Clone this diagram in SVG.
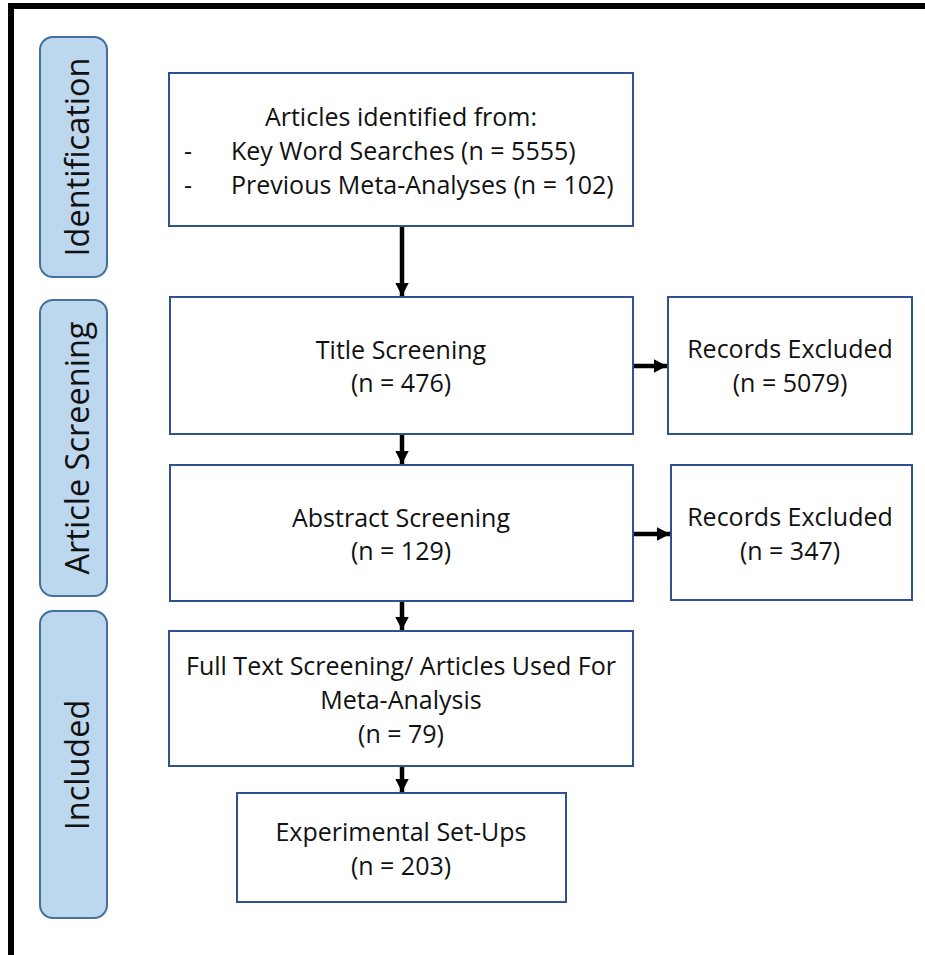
<svg xmlns="http://www.w3.org/2000/svg" width="925" height="955" viewBox="0 0 925 955">
<style>
.box{fill:#fff;stroke:#2F528F;stroke-width:2}
.pill{fill:#BDD7EE;stroke:#41719C;stroke-width:2}
.t{font-family:"Open Sans","Liberation Sans",sans-serif;font-size:25px;fill:#111;text-anchor:middle}
.tl{font-family:"Open Sans","Liberation Sans",sans-serif;font-size:25px;fill:#111}
.side{font-family:"Open Sans","Liberation Sans",sans-serif;font-size:32.5px;fill:#111;text-anchor:middle}
.c{stroke:#000;stroke-width:4.5;fill:none}
</style>
<defs>
<marker id="ah" markerWidth="4" markerHeight="4" refX="3" refY="2" orient="auto" markerUnits="strokeWidth" viewBox="0 0 4 4">
<path d="M0,0.45 L3,2 L0,3.55 z" fill="#000"/>
</marker>
</defs>
<rect width="925" height="955" fill="#fff"/>
<g id="frame">
<line x1="8" y1="6" x2="925" y2="6" stroke="#000" stroke-width="6"/>
<line x1="11" y1="3" x2="11" y2="955" stroke="#000" stroke-width="6"/>
</g>
<g id="stage-identification">
<rect class="pill" x="40" y="37" width="67" height="240" rx="13"/>
<text class="side" transform="translate(89,157) rotate(-90)">Identification</text>
</g>
<g id="stage-screening">
<rect class="pill" x="40" y="300" width="67" height="296" rx="13"/>
<text class="side" transform="translate(89,448) rotate(-90)">Article Screening</text>
</g>
<g id="stage-included">
<rect class="pill" x="40" y="611" width="67" height="307" rx="13"/>
<text class="side" transform="translate(89,765) rotate(-90)">Included</text>
</g>
<g id="identified">
<rect class="box" x="169" y="73" width="464" height="153"/>
<text class="t" x="401" y="126">Articles identified from:</text>
<text class="tl" x="184" y="160">-</text>
<text class="tl" x="231" y="160">Key Word Searches (n = 5555)</text>
<text class="tl" x="184" y="194">-</text>
<text class="tl" x="231" y="194">Previous Meta-Analyses (n = 102)</text>
</g>
<g id="title-screening">
<rect class="box" x="170" y="297" width="463" height="137"/>
<text class="t" x="401" y="359">Title Screening</text>
<text class="t" x="401" y="392">(n = 476)</text>
</g>
<g id="excluded-1">
<rect class="box" x="668" y="297" width="244" height="137"/>
<text class="t" x="790" y="358">Records Excluded</text>
<text class="t" x="790" y="392">(n = 5079)</text>
</g>
<g id="abstract-screening">
<rect class="box" x="170" y="465" width="463" height="136"/>
<text class="t" x="401" y="527">Abstract Screening</text>
<text class="t" x="401" y="560">(n = 129)</text>
</g>
<g id="excluded-2">
<rect class="box" x="671" y="465" width="241" height="135"/>
<text class="t" x="790" y="526">Records Excluded</text>
<text class="t" x="790" y="560">(n = 347)</text>
</g>
<g id="full-text">
<rect class="box" x="169" y="631" width="464" height="135"/>
<text class="t" x="401" y="675">Full Text Screening/ Articles Used For</text>
<text class="t" x="401" y="709">Meta-Analysis</text>
<text class="t" x="401" y="743">(n = 79)</text>
</g>
<g id="experimental">
<rect class="box" x="237" y="793" width="329" height="109"/>
<text class="t" x="401" y="841">Experimental Set-Ups</text>
<text class="t" x="401" y="875">(n = 203)</text>
</g>
<g id="connectors">
<line class="c" x1="402" y1="227" x2="402" y2="296" marker-end="url(#ah)"/>
<line class="c" x1="402" y1="435" x2="402" y2="464" marker-end="url(#ah)"/>
<line class="c" x1="402" y1="602" x2="402" y2="630" marker-end="url(#ah)"/>
<line class="c" x1="402" y1="767" x2="402" y2="792" marker-end="url(#ah)"/>
<line class="c" x1="634" y1="366" x2="667" y2="366" marker-end="url(#ah)"/>
<line class="c" x1="634" y1="534" x2="670" y2="534" marker-end="url(#ah)"/>
</g>
</svg>
